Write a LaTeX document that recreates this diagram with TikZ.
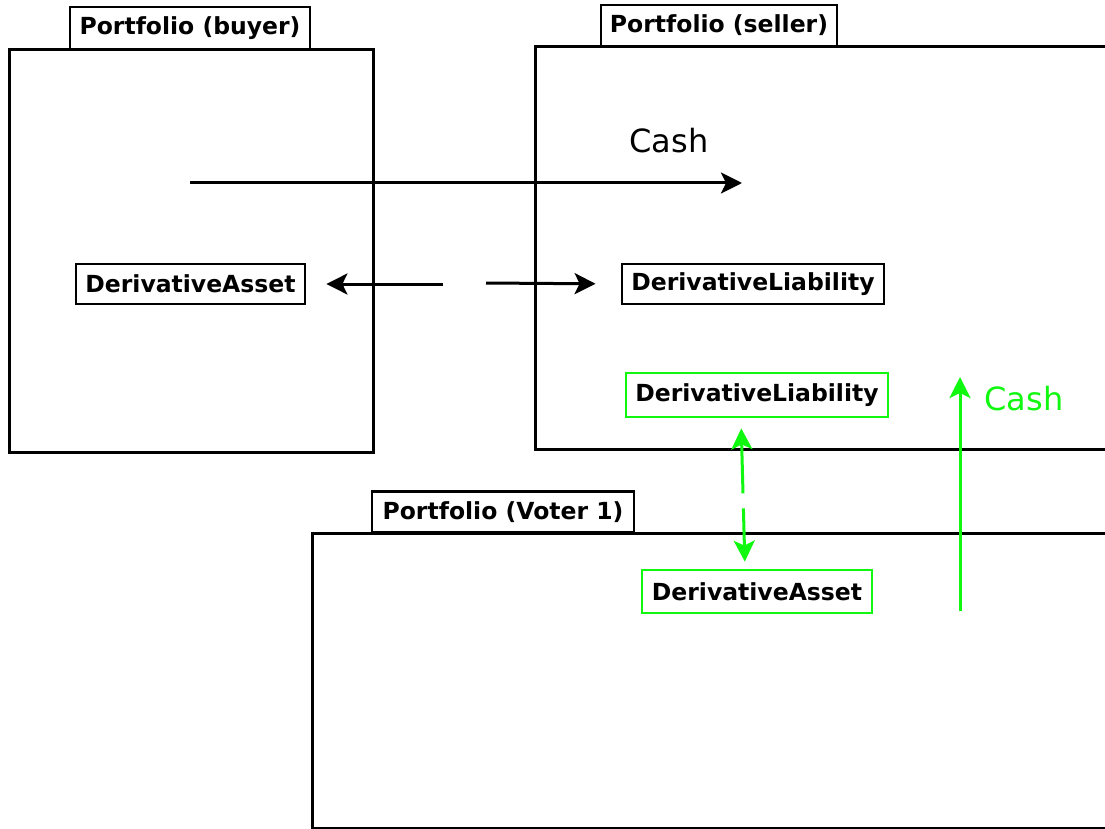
\documentclass[tikz,border=0pt]{standalone}
\usepackage{fontspec}
\setmainfont{DejaVu Sans}
\usetikzlibrary{arrows.meta}
\definecolor{flowgreen}{RGB}{16,248,16}
\tikzset{
  pane/.style={draw=black, line width=3pt, fill=none},
  tag/.style={draw=black, line width=2.8pt, fill=white, inner sep=0pt,
    font=\fontsize{23.5}{28}\selectfont\bfseries},
  item/.style={draw=black, line width=2.8pt, fill=white, inner sep=0pt,
    font=\fontsize{23.5}{28}\selectfont\bfseries},
  greenitem/.style={item, draw=flowgreen},
  tip/.tip={Stealth[length=21pt,width=21pt,inset=5pt]},
  flow/.style={line width=3pt, -tip},
  greenflow/.style={flow, draw=flowgreen},
  cashlabel/.style={font=\fontsize{32}{38}\selectfont, inner sep=0pt}
}
\begin{document}
\begin{tikzpicture}[x=1pt,y=-1pt]
\useasboundingbox (0,0) rectangle (1105,829);
\fill[white] (0,0) rectangle (1105,829);
\begin{scope}
\clip (0,0) rectangle (1105,829);
% portfolio frames
\draw[pane] (9,50) rectangle (373,452);
\draw[pane] (535,47) rectangle (1130,449);
\draw[pane] (312,533) rectangle (1130,828);
% portfolio titles
\node[tag, minimum width=240pt, minimum height=42pt] (tbuyer) at (190,28) {Portfolio (buyer)};
\node[tag, minimum width=236pt, minimum height=41pt] (tseller) at (719,25.5) {Portfolio (seller)};
\node[tag, minimum width=262pt, minimum height=41pt] (tvoter) at (503,512) {Portfolio (Voter 1)};
% positions
\node[item, minimum width=229pt, minimum height=40pt] (da) at (190.5,284) {DerivativeAsset};
\node[item, minimum width=262pt, minimum height=40pt] (dl) at (753,284) {DerivativeLiability};
\node[greenitem, minimum width=262pt, minimum height=44pt] (gdl) at (757,395) {DerivativeLiability};
\node[greenitem, minimum width=230pt, minimum height=43pt] (gda) at (757,591.5) {DerivativeAsset};
% cash transfer buyer -> seller
\coordinate (cashfrom) at (190,183);
\coordinate (cashto) at (742,183);
\draw[flow] (cashfrom) -- (cashto);
\node[cashlabel] (cash1) at (669,141) {Cash};
% derivative split
\coordinate (splitl) at (443,284);
\coordinate (splitr) at (486,283);
\draw[flow, shorten >=20pt] (splitl) -- (da.east);
\draw[flow, shorten >=25pt] (splitr) -- (dl.west);
% liability transfer to voter
\draw[greenflow, tip-tip, dash pattern=on 50pt off 15pt on 200pt,
  shorten <=10pt, shorten >=7pt]
  ([xshift=-16pt]gdl.south) -- ([xshift=-12pt]gda.north);
% cash from voter to seller
\coordinate (vcash) at (960,611);
\coordinate (scash) at (960,377);
\draw[greenflow] (vcash) -- (scash);
\node[cashlabel, text=flowgreen] (cash2) at (1024,399) {Cash};
\end{scope}
\end{tikzpicture}
\end{document}
